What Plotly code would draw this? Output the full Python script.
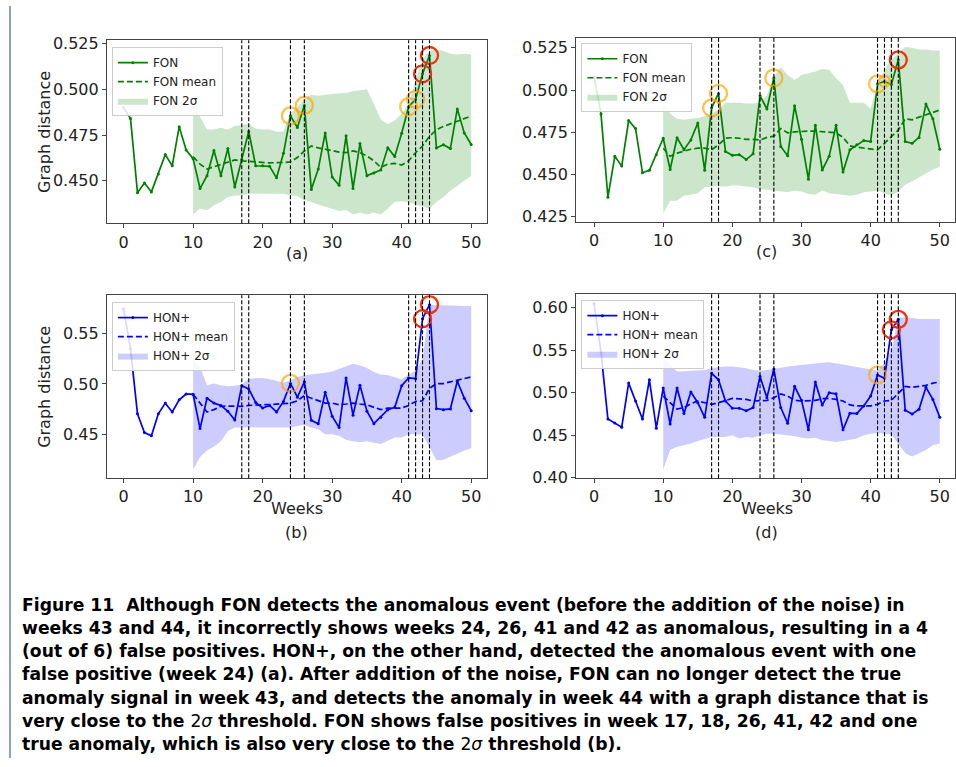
import plotly.graph_objects as go

W, H = 956, 767

weeks = list(range(51))
band_weeks = list(range(10, 51))
anomaly_weeks = [17, 18, 24, 26, 41, 42, 43, 44]

# (a) FON, before noise
fon_a = [0.490, 0.484, 0.4435, 0.4488, 0.4439, 0.4537, 0.4643, 0.4582, 0.4796, 0.4668,
         0.4621, 0.4457, 0.4528, 0.4666, 0.4528, 0.4677, 0.4466, 0.4618, 0.4770, 0.4582,
         0.4582, 0.4579, 0.4516, 0.4650, 0.4855, 0.4791, 0.4912, 0.4452, 0.4564, 0.4761,
         0.4520, 0.4475, 0.4746, 0.4457, 0.4704, 0.4528, 0.4543, 0.4559, 0.4680, 0.4632,
         0.4760, 0.4905, 0.4945, 0.5085, 0.5185, 0.4679, 0.4697, 0.4676, 0.4893, 0.4761, 0.4698]
fon_a_mean = [0.4632, 0.4591, 0.4564, 0.4577, 0.4590, 0.4603, 0.4614, 0.4609, 0.4605, 0.4600,
              0.4600, 0.4598, 0.4598, 0.4600, 0.4603, 0.4627, 0.4663, 0.4690, 0.4680, 0.4672,
              0.4663, 0.4657, 0.4654, 0.4663, 0.4654, 0.4636, 0.4609, 0.4573, 0.4591, 0.4595,
              0.4586, 0.4609, 0.4654, 0.4690, 0.4743, 0.4779, 0.4797, 0.4811, 0.4824, 0.4841, 0.4854]
fon_a_upper = [0.492, 0.485, 0.478, 0.478, 0.479, 0.478, 0.480, 0.4805, 0.481, 0.4786,
               0.478, 0.478, 0.4768, 0.477, 0.487, 0.490, 0.495, 0.497, 0.4965, 0.497,
               0.4975, 0.4978, 0.498, 0.499, 0.4995, 0.500, 0.492, 0.4835, 0.481, 0.483,
               0.4866, 0.492, 0.505, 0.5165, 0.521, 0.522, 0.521, 0.5195, 0.519, 0.5195, 0.519]
fon_a_lower = [0.4316, 0.4348, 0.4339, 0.4366, 0.4384, 0.4411, 0.4420, 0.4420, 0.4429, 0.4429,
               0.4429, 0.4425, 0.4425, 0.4429, 0.4420, 0.4416, 0.4393, 0.4384, 0.4370, 0.4357,
               0.4345, 0.4334, 0.4340, 0.4316, 0.4327, 0.4316, 0.4327, 0.4316, 0.4348, 0.4384,
               0.4388, 0.4384, 0.4370, 0.4357, 0.4348, 0.4384, 0.4411, 0.4446, 0.4473, 0.4500, 0.4527]

# (c) FON, after noise
fon_c = [0.508, 0.4859, 0.4366, 0.4608, 0.4550, 0.4820, 0.4772, 0.4511, 0.4525, 0.4618,
         0.4715, 0.4530, 0.4718, 0.4647, 0.4705, 0.4805, 0.4525, 0.4895, 0.4980, 0.4637,
         0.4614, 0.4618, 0.4589, 0.4623, 0.4966, 0.4888, 0.5072, 0.4666, 0.4612, 0.4908,
         0.4709, 0.4472, 0.4792, 0.4527, 0.4608, 0.4792, 0.4515, 0.4647, 0.4676, 0.4701,
         0.4695, 0.5037, 0.5052, 0.5033, 0.5179, 0.4695, 0.4685, 0.4720, 0.4917, 0.4830, 0.4650]
fon_c_mean = [0.4656, 0.4608, 0.4627, 0.4640, 0.4650, 0.4656, 0.4656, 0.4647, 0.4676, 0.4715,
              0.4718, 0.4715, 0.4708, 0.4708, 0.4704, 0.4720, 0.4727, 0.4772, 0.4747, 0.4753,
              0.4757, 0.4757, 0.4757, 0.4755, 0.4752, 0.4747, 0.4720, 0.4670, 0.4662, 0.4656,
              0.4650, 0.4646, 0.4685, 0.4724, 0.4763, 0.4830, 0.4824, 0.4840, 0.4853, 0.4869, 0.4882]
fon_c_upper = [0.4935, 0.486, 0.483, 0.4825, 0.483, 0.4835, 0.4845, 0.486, 0.4885, 0.4925,
               0.4925, 0.4925, 0.492, 0.492, 0.4925, 0.497, 0.508, 0.5135, 0.509, 0.506,
               0.509, 0.510, 0.511, 0.5125, 0.512, 0.507, 0.503, 0.4925, 0.4925, 0.4925,
               0.489, 0.503, 0.512, 0.518, 0.522, 0.5255, 0.525, 0.524, 0.524, 0.5235, 0.5235]
fon_c_lower = [0.427, 0.4345, 0.4345, 0.4375, 0.438, 0.439, 0.4425, 0.443, 0.443, 0.443,
               0.4435, 0.4435, 0.443, 0.4425, 0.4415, 0.441, 0.4405, 0.440, 0.4395, 0.4405,
               0.440, 0.4385, 0.438, 0.4405, 0.439, 0.4385, 0.438, 0.4375, 0.438, 0.4395,
               0.440, 0.4405, 0.439, 0.4375, 0.440, 0.444, 0.446, 0.4485, 0.451, 0.453, 0.4545]

# (b) HON+, before noise
hon_b = [0.575, 0.535, 0.4702, 0.4516, 0.4483, 0.4702, 0.4809, 0.4721, 0.4842, 0.4900,
         0.4897, 0.4555, 0.4858, 0.4809, 0.4786, 0.4728, 0.4640, 0.4982, 0.4950, 0.4816,
         0.4760, 0.4786, 0.4721, 0.4826, 0.5005, 0.4868, 0.5021, 0.4637, 0.4604, 0.4916,
         0.4679, 0.4565, 0.5060, 0.4689, 0.4988, 0.4728, 0.4604, 0.4669, 0.4744, 0.4767,
         0.4982, 0.5060, 0.5053, 0.5650, 0.5790, 0.4754, 0.4744, 0.4751, 0.5027, 0.4858, 0.4734]
hon_b_mean = [0.4897, 0.4809, 0.4721, 0.4744, 0.4777, 0.4780, 0.4780, 0.4777, 0.4786, 0.4793,
              0.4793, 0.4793, 0.4800, 0.4800, 0.4809, 0.4832, 0.4884, 0.4858, 0.4832, 0.4809,
              0.4809, 0.4793, 0.4800, 0.4809, 0.4800, 0.4793, 0.4767, 0.4744, 0.4760, 0.4760,
              0.4760, 0.4786, 0.4825, 0.4832, 0.4955, 0.5004, 0.5004, 0.5021, 0.5037, 0.5060, 0.5070]
hon_b_upper = [0.525, 0.5167, 0.4988, 0.5004, 0.4988, 0.4978, 0.4982, 0.4994, 0.5053, 0.5060,
               0.5060, 0.5047, 0.5027, 0.5011, 0.5037, 0.5070, 0.5086, 0.5093, 0.5102, 0.5112,
               0.5125, 0.5151, 0.5177, 0.5200, 0.5184, 0.5158, 0.5119, 0.5093, 0.5086, 0.5070,
               0.5047, 0.5093, 0.5130, 0.5250, 0.5786, 0.5786, 0.5783, 0.5777, 0.5777, 0.5777, 0.5777]
hon_b_lower = [0.4148, 0.4271, 0.4337, 0.4376, 0.4428, 0.4532, 0.4565, 0.4565, 0.4565, 0.4565,
               0.4565, 0.4565, 0.4558, 0.4558, 0.4565, 0.4581, 0.4590, 0.4565, 0.4548, 0.4499,
               0.4499, 0.4483, 0.4441, 0.4428, 0.4418, 0.4428, 0.4418, 0.4402, 0.4434, 0.4467,
               0.4467, 0.4499, 0.4499, 0.4495, 0.4370, 0.4239, 0.4245, 0.4271, 0.4304, 0.4337, 0.4359]

# (d) HON+, after noise
hon_d = [0.605, 0.548, 0.4692, 0.4646, 0.4596, 0.5115, 0.4904, 0.4692, 0.5154, 0.4585,
         0.5057, 0.4634, 0.5057, 0.4757, 0.5011, 0.4884, 0.4712, 0.5230, 0.5154, 0.4904,
         0.4819, 0.4819, 0.4788, 0.4827, 0.5192, 0.4942, 0.5280, 0.4827, 0.4642, 0.5077,
         0.4912, 0.4566, 0.5127, 0.4858, 0.5000, 0.4988, 0.4566, 0.4761, 0.4757, 0.4846,
         0.4962, 0.5211, 0.5173, 0.5742, 0.5865, 0.4796, 0.4750, 0.4808, 0.5065, 0.4923, 0.4712]
hon_d_mean = [0.4962, 0.4884, 0.4808, 0.4827, 0.4873, 0.4904, 0.4884, 0.4865, 0.4884, 0.4912,
              0.4935, 0.4930, 0.4923, 0.4904, 0.4906, 0.4912, 0.4942, 0.4988, 0.4962, 0.4912,
              0.4904, 0.4906, 0.4912, 0.4931, 0.4935, 0.4923, 0.4904, 0.4858, 0.4846, 0.4846,
              0.4846, 0.4865, 0.4904, 0.4912, 0.5000, 0.5077, 0.5065, 0.5077, 0.5088, 0.5115, 0.5127]
hon_d_upper = [0.542, 0.533, 0.525, 0.5255, 0.526, 0.526, 0.527, 0.529, 0.5305, 0.531,
               0.531, 0.530, 0.529, 0.527, 0.526, 0.527, 0.5285, 0.530, 0.531, 0.532,
               0.533, 0.534, 0.535, 0.5355, 0.536, 0.535, 0.5335, 0.532, 0.5305, 0.529,
               0.527, 0.526, 0.535, 0.550, 0.5885, 0.589, 0.588, 0.587, 0.587, 0.587, 0.587]
hon_d_lower = [0.4096, 0.4327, 0.4365, 0.4385, 0.4404, 0.4435, 0.4462, 0.4480, 0.4480, 0.4480,
               0.4500, 0.4462, 0.4480, 0.4473, 0.4500, 0.4519, 0.4519, 0.4511, 0.4500, 0.4488,
               0.4473, 0.4462, 0.4473, 0.4442, 0.4435, 0.4423, 0.4435, 0.4450, 0.4462, 0.4500,
               0.4519, 0.4527, 0.4519, 0.4511, 0.4404, 0.4289, 0.4250, 0.4289, 0.4327, 0.4385, 0.4404]

# weeks flagged by the detector (orange = false positive, red = true anomaly)
a_false, a_true = [24, 26, 41, 42], [43, 44]
c_false, c_true = [17, 18, 26, 41, 42], [44]
b_false, b_true = [24], [43, 44]
d_false, d_true = [41], [43, 44]

caption_lines = [
    "<b>Figure 11  Although FON detects the anomalous event (before the addition of the noise) in</b>",
    "<b>weeks 43 and 44, it incorrectly shows weeks 24, 26, 41 and 42 as anomalous, resulting in a 4</b>",
    "<b>(out of 6) false positives. HON+, on the other hand, detected the anomalous event with one</b>",
    "<b>false positive (week 24) (a). After addition of the noise, FON can no longer detect the true</b>",
    "<b>anomaly signal in week 43, and detects the anomaly in week 44 with a graph distance that is</b>",
    "<b>very close to the </b>2<i>σ</i><b> threshold. FON shows false positives in week 17, 18, 26, 41, 42 and one</b>",
    "<b>true anomaly, which is also very close to the </b>2<i>σ</i><b> threshold (b).</b>",
]

GREEN = "#008000"
BLUE = "#0000ff"
ORANGE = "#ffa500"
RED = "#f2300f"
FONT = "DejaVu Sans"


def px(x):
    return x / W


def py(y):
    return 1 - y / H


fig = go.Figure()
shapes = []
annotations = []


def panel(n, name, color, fill, vals, mean, upper, lower, false_w, true_w,
          xdom, ydom, xrange_, yrange_, yticks, yfmt, leg_xy):
    xa = "x" if n == 1 else "x%d" % n
    ya = "y" if n == 1 else "y%d" % n
    leg = "legend" if n == 1 else "legend%d" % n
    common = dict(xaxis=xa, yaxis=ya, legend=leg)
    fig.add_trace(go.Scatter(x=band_weeks, y=lower, mode="lines", line=dict(width=0),
                             showlegend=False, hoverinfo="skip", **common))
    fig.add_trace(go.Scatter(x=band_weeks, y=upper, mode="lines", line=dict(width=0),
                             fill="tonexty", fillcolor=fill, name=name + " 2σ",
                             legendrank=3, **common))
    fig.add_trace(go.Scatter(x=band_weeks, y=mean, mode="lines",
                             line=dict(color=color, width=1.7, dash="6px,3px"),
                             name=name + " mean", legendrank=2, **common))
    fig.add_trace(go.Scatter(x=weeks, y=vals, mode="lines+markers",
                             line=dict(color=color, width=1.7),
                             marker=dict(size=3, color=color),
                             name=name, legendrank=1, **common))
    sizes = [11 if (n == 2 and w == 42) else 17 for w in false_w]
    fig.add_trace(go.Scatter(x=false_w, y=[vals[w] for w in false_w], mode="markers",
                             marker=dict(symbol="circle-open", size=sizes, color=ORANGE,
                                         line=dict(color=ORANGE, width=2.3)),
                             showlegend=False, **common))
    fig.add_trace(go.Scatter(x=true_w, y=[vals[w] for w in true_w], mode="markers",
                             marker=dict(symbol="circle-open", size=17, color=RED,
                                         line=dict(color=RED, width=2.3)),
                             showlegend=False, **common))
    for w in anomaly_weeks:
        shapes.append(dict(type="line", xref=xa, yref=ya + " domain", x0=w, x1=w,
                           y0=0, y1=1, layer="above",
                           line=dict(color="black", width=1.1, dash="4px,2px")))
    axis_common = dict(showgrid=False, zeroline=False, showline=True, mirror=True,
                       linecolor="#444", linewidth=1, ticks="outside", ticklen=4,
                       tickcolor="#444", tickfont=dict(family=FONT, size=16, color="#222"))
    fig.layout[("xaxis" if n == 1 else "xaxis%d" % n)] = dict(
        domain=xdom, range=xrange_, tickvals=[0, 10, 20, 30, 40, 50],
        anchor=ya, **axis_common)
    fig.layout[("yaxis" if n == 1 else "yaxis%d" % n)] = dict(
        domain=ydom, range=yrange_, tickvals=yticks, tickformat=yfmt,
        anchor=xa, **axis_common)
    fig.layout[leg] = dict(x=leg_xy[0], y=leg_xy[1], xanchor="left", yanchor="top",
                           traceorder="normal",
                           bgcolor="rgba(255,255,255,0.85)", bordercolor="#cccccc",
                           borderwidth=1, font=dict(family=FONT, size=12, color="#222"),
                           itemwidth=30, tracegroupgap=0)


panel(1, "FON", GREEN, "rgba(0,128,0,0.2)", fon_a, fon_a_mean, fon_a_upper, fon_a_lower,
      a_false, a_true, [px(107), px(487.3)], [py(221.7), py(35)], [-2.4, 52.24],
      [0.4267, 0.5268], [0.450, 0.475, 0.500, 0.525], ".3f", (px(112), py(42)))
panel(2, "FON", GREEN, "rgba(0,128,0,0.2)", fon_c, fon_c_mean, fon_c_upper, fon_c_lower,
      c_false, c_true, [px(576.7), 1.0], [py(220), py(32.7)], [-2.6, 52.2],
      [0.4221, 0.5308], [0.425, 0.450, 0.475, 0.500, 0.525], ".3f", (px(582), py(38)))
panel(3, "HON+", BLUE, "rgba(0,0,255,0.2)", hon_b, hon_b_mean, hon_b_upper, hon_b_lower,
      b_false, b_true, [px(107), px(487.3)], [py(481.7), py(295)], [-2.4, 52.24],
      [0.406, 0.5884], [0.45, 0.50, 0.55], ".2f", (px(112), py(302)))
panel(4, "HON+", BLUE, "rgba(0,0,255,0.2)", hon_d, hon_d_mean, hon_d_upper, hon_d_lower,
      d_false, d_true, [px(576.7), 1.0], [py(481.7), py(294)], [-2.6, 52.2],
      [0.3995, 0.616], [0.40, 0.45, 0.50, 0.55, 0.60], ".2f", (px(582), py(300)))

label_font = dict(family=FONT, size=16, color="#222")
for txt, x, y in [("(a)", 297, 252), ("(c)", 767.5, 250), ("(b)", 297, 537), ("(d)", 767.5, 537),
                  ("Weeks", 297, 513), ("Weeks", 767.5, 513)]:
    annotations.append(dict(text=txt, x=px(x), y=py(y), xref="paper", yref="paper",
                            showarrow=False, xanchor="center", yanchor="middle", font=label_font))
for y in (128.5, 388.5):
    annotations.append(dict(text="Graph distance", x=px(45), y=py(y), xref="paper", yref="paper",
                            showarrow=False, textangle=-90, xanchor="center", yanchor="middle",
                            font=label_font))

for i, line in enumerate(caption_lines):
    annotations.append(dict(text=line, x=px(20), y=py(611 + 23.6 * i), xref="paper", yref="paper",
                            showarrow=False, xanchor="left", yanchor="middle",
                            font=dict(family="DejaVu Sans", size=17.2, color="black")))

shapes.append(dict(type="line", xref="paper", yref="paper", x0=px(10), x1=px(10), y0=0, y1=1,
                   line=dict(color="#8ea2c0", width=2)))

fig.update_layout(width=W, height=H, autosize=False, margin=dict(l=0, r=0, t=0, b=0),
                  plot_bgcolor="white", paper_bgcolor="white", shapes=shapes,
                  annotations=annotations, hovermode=False)

fig.write_html("out.html", config={"displayModeBar": False},
               post_script="document.body.style.margin='0';")
